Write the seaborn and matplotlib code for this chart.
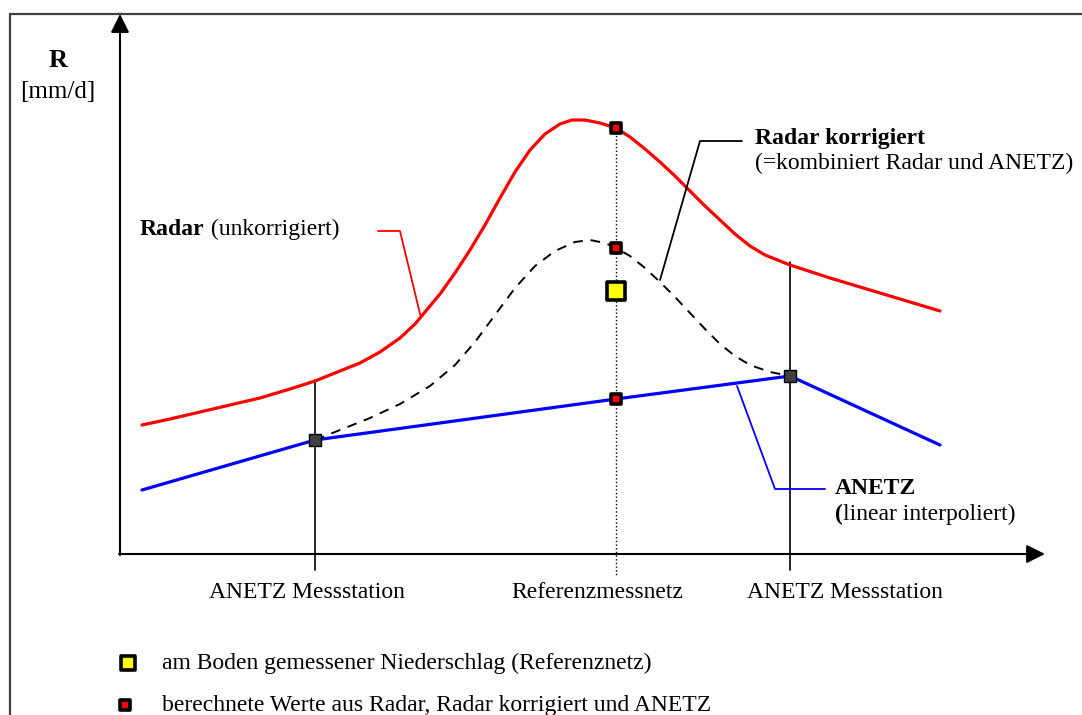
import numpy as np
import pandas as pd
import seaborn as sns
import matplotlib.pyplot as plt

# --- data (schematic units) ---
radar_x = [0.22, 0.50, 0.80, 1.10, 1.40, 1.70, 1.95, 2.20, 2.40, 2.60, 2.80, 2.95, 3.05,
           3.20, 3.35, 3.50, 3.65, 3.80, 3.95, 4.10, 4.25, 4.40, 4.52, 4.65, 4.80, 4.96,
           5.10, 5.25, 5.40, 5.55, 5.70, 5.85, 6.00, 6.15, 6.30, 6.45, 6.70, 7.10, 7.60, 8.20]
radar_y = [1.29, 1.35, 1.42, 1.49, 1.56, 1.65, 1.73, 1.83, 1.91, 2.02, 2.16, 2.30, 2.42,
           2.60, 2.81, 3.04, 3.29, 3.56, 3.82, 4.04, 4.20, 4.30, 4.34, 4.34, 4.31, 4.26,
           4.17, 4.05, 3.92, 3.78, 3.63, 3.48, 3.34, 3.20, 3.08, 2.99, 2.89, 2.76, 2.61, 2.43]

korr_x = [1.95, 2.20, 2.50, 2.80, 3.10, 3.35, 3.55, 3.75, 3.95, 4.15, 4.35, 4.55, 4.70,
          4.85, 4.96, 5.10, 5.25, 5.40, 5.55, 5.70, 5.85, 6.00, 6.15, 6.30, 6.50, 6.70]
korr_y = [1.14, 1.24, 1.36, 1.50, 1.68, 1.89, 2.12, 2.39, 2.66, 2.88, 3.03, 3.12, 3.14,
          3.11, 3.06, 2.98, 2.86, 2.72, 2.57, 2.41, 2.25, 2.10, 1.98, 1.89, 1.82, 1.78]

anetz_x = [0.22, 1.95, 4.96, 6.70, 8.20]
anetz_y = [0.64, 1.14, 1.55, 1.78, 1.09]

station_x = [1.95, 6.70]
station_y = [1.14, 1.78]
ref_x = 4.96
calc_y = [4.26, 3.06, 1.55]     # Radar, Radar korrigiert, ANETZ at Referenzmessnetz
ground_y = 2.63                 # gemessener Niederschlag

tick_pos = [1.87, 4.77, 7.25]
tick_labels = ['ANETZ Messstation', 'Referenzmessnetz', 'ANETZ Messstation']

sns.set_theme(style="white")
plt.rcParams['font.family'] = ['Liberation Serif', 'DejaVu Serif']
plt.rcParams['text.color'] = 'black'
FS = 17

fig = plt.figure(figsize=(10.82, 7.15), dpi=100)
ax = fig.add_axes([0, 0, 1, 1])
ax.set_xlim(-1.20, 9.62)
ax.set_ylim(-1.61, 5.54)
ax.axis('off')

# outer frame (top and left)
ax.plot([-1.10, 9.62], [5.40, 5.40], color='#404040', lw=1.6, clip_on=False)
ax.plot([-1.10, -1.10], [5.40, -1.61], color='#404040', lw=1.6, clip_on=False)

# axes with arrows
arrow = dict(arrowstyle='-|>', color='black', lw=1.5, mutation_scale=28, shrinkA=0, shrinkB=0)
ax.annotate('', xy=(0, 5.40), xytext=(0, -0.01), arrowprops=arrow)
ax.annotate('', xy=(9.25, 0), xytext=(-0.01, 0), arrowprops=arrow)

# vertical guide lines
ax.plot([station_x[0]] * 2, [1.74, -0.16], color='black', lw=1.2)
ax.plot([station_x[1]] * 2, [2.92, -0.16], color='black', lw=1.2)
ax.plot([ref_x] * 2, [calc_y[0], -0.21], color='black', lw=1.0, ls=':')

# curves
sns.lineplot(x=radar_x, y=radar_y, sort=False, color='#ff0000', lw=2.3, ax=ax,
             solid_joinstyle='round')
sns.lineplot(x=korr_x, y=korr_y, sort=False, color='black', lw=1.4, ax=ax,
             linestyle=(0, (5, 4)))
sns.lineplot(x=anetz_x, y=anetz_y, sort=False, color='#0000ff', lw=2.3, ax=ax)

# leader lines
ax.plot([2.58, 2.80, 3.01], [3.23, 3.23, 2.36], color='#ff0000', lw=1.3)
ax.plot([6.22, 5.80, 5.40], [4.13, 4.13, 2.74], color='black', lw=1.3)
ax.plot([7.05, 6.55, 6.17], [0.65, 0.65, 1.68], color='#0000ff', lw=1.3)

# markers
sns.scatterplot(x=station_x, y=station_y, marker='s', s=70, color='#404040',
                edgecolor='black', linewidth=1.0, zorder=5, ax=ax)
sns.scatterplot(x=[ref_x] * 3, y=calc_y, marker='s', s=60, color='#ff0000',
                edgecolor='black', linewidth=2.6, zorder=5, ax=ax)
sns.scatterplot(x=[ref_x], y=[ground_y], marker='s', s=160, color='#ffff00',
                edgecolor='black', linewidth=2.6, zorder=5, ax=ax)

# axis label
ax.text(-0.62, 4.94, 'R', fontsize=FS + 2, fontweight='bold', ha='center', va='center')
ax.text(-0.62, 4.62, '[mm/d]', fontsize=FS + 1, ha='center', va='center')

# x tick labels
for p, lab in zip(tick_pos, tick_labels):
    ax.text(p, -0.38, lab, fontsize=FS, ha='center', va='center')

# curve labels
t = ax.text(0.20, 3.25, 'Radar', fontsize=FS, fontweight='bold', ha='left', va='center')
ax.annotate(' (unkorrigiert)', xy=(1, 0), xycoords=t, fontsize=FS, ha='left', va='bottom')

ax.text(6.35, 4.16, 'Radar korrigiert', fontsize=FS, fontweight='bold', ha='left', va='center')
ax.text(6.35, 3.91, '(=kombiniert Radar und ANETZ)', fontsize=FS, ha='left', va='center')

ax.text(7.15, 0.66, 'ANETZ', fontsize=FS, fontweight='bold', ha='left', va='center')
t = ax.text(7.15, 0.40, '(', fontsize=FS, fontweight='bold', ha='left', va='center')
ax.annotate('linear interpoliert)', xy=(1, 0), xycoords=t, fontsize=FS, ha='left', va='bottom')

# legend
sns.scatterplot(x=[0.08], y=[-1.09], marker='s', s=110, color='#ffff00',
                edgecolor='black', linewidth=2.6, ax=ax, clip_on=False)
ax.text(0.42, -1.09, 'am Boden gemessener Niederschlag (Referenznetz)', fontsize=FS,
        ha='left', va='center')
sns.scatterplot(x=[0.05], y=[-1.51], marker='s', s=55, color='#ff0000',
                edgecolor='black', linewidth=2.6, ax=ax, clip_on=False)
ax.text(0.42, -1.51, 'berechnete Werte aus Radar, Radar korrigiert und ANETZ', fontsize=FS,
        ha='left', va='center')

fig.savefig('out.png', dpi=100, facecolor='white')
